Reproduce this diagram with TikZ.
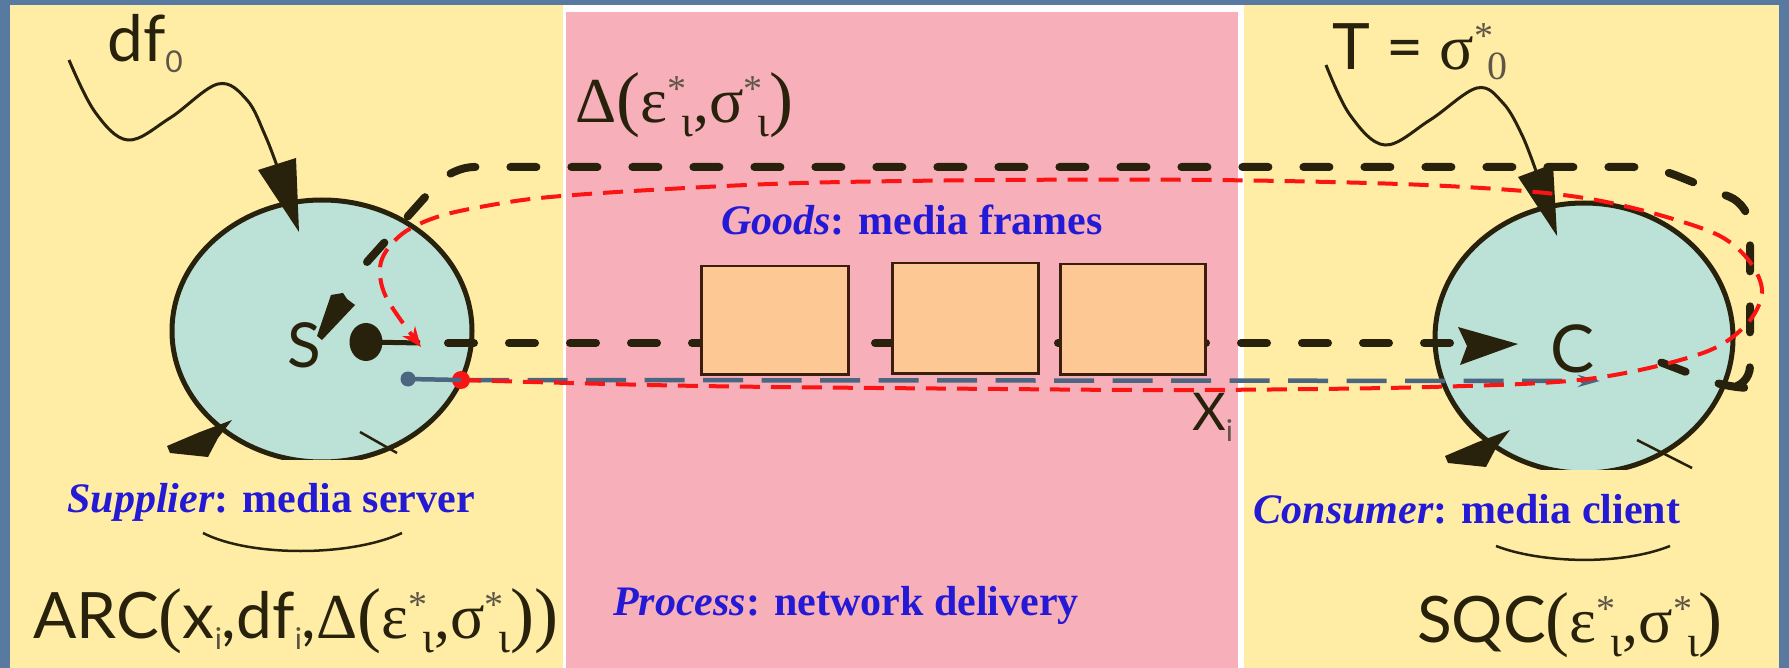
\documentclass[tikz,border=0pt]{standalone}
\usepackage{fontspec}
\setmainfont{Liberation Serif}
\newfontfamily\gsans{Lato}
\newfontfamily\gserif{Liberation Serif}
\usetikzlibrary{arrows.meta,shapes.geometric}
\definecolor{bgblue}{RGB}{88,122,160}
\definecolor{panelyellow}{RGB}{255,237,165}
\definecolor{panelpink}{RGB}{247,176,186}
\definecolor{tealfill}{RGB}{188,225,214}
\definecolor{darkline}{RGB}{40,34,12}
\definecolor{labelblue}{RGB}{36,26,214}
\definecolor{framefill}{RGB}{253,200,148}
\definecolor{framedraw}{RGB}{60,30,15}
\definecolor{redline}{RGB}{250,20,20}
\definecolor{slateline}{RGB}{74,102,128}
\definecolor{scriptgray}{RGB}{95,85,70}
\newcommand{\scr}{\fontsize{30}{30}\selectfont}
\newcommand{\lsub}[1]{\raisebox{-11pt}{\scr\color{scriptgray}#1}}
\newcommand{\gbig}{\fontsize{64}{70}\selectfont\gserif}
\newcommand{\pbig}{\fontsize{72}{76}\selectfont\gserif}
\newcommand{\supstar}{\makebox[13pt][l]{\raisebox{21pt}{\fontsize{38}{38}\selectfont\gserif\color{scriptgray}*}}}
\newcommand{\subiota}{\raisebox{-14pt}{\fontsize{44}{44}\selectfont\gserif ι}}
\newcommand{\starota}{\supstar\kern1pt\subiota}
\begin{document}
\begin{tikzpicture}[x=1pt,y=-1pt,
  agent/.style={ellipse, fill=tealfill, draw=darkline, line width=5pt, inner sep=0pt, outer sep=0pt},
  frame/.style={draw=framedraw, fill=framefill, line width=2.5pt},
  bluelabel/.style={text=labelblue, font=\fontsize{42}{48}\selectfont\bfseries, anchor=base, inner sep=0pt},
  mathlabel/.style={text=darkline, font=\fontsize{64}{70}\selectfont\gsans, anchor=base west, inner sep=0pt},
  letterlabel/.style={text=darkline, font=\fontsize{62}{66}\selectfont\gsans, anchor=base west, inner sep=0pt},
  bigdash/.style={draw=darkline, line width=8pt, line cap=round, dash pattern=on 26pt off 35pt},
  reddash/.style={draw=redline, line width=4pt, dash pattern=on 20pt off 11pt},
  slatedash/.style={draw=slateline, line width=4.5pt, dash pattern=on 40pt off 18.5pt},
  wave/.style={draw=darkline, line width=3pt},
  dotmark/.style={circle, inner sep=0pt, outer sep=0pt},
  brace/.style={draw=darkline, line width=2.5pt}
]
\useasboundingbox (0,0) rectangle (1789,668);
% panels
\fill[bgblue] (0,0) rectangle (1789,668);
\fill[panelyellow] (10,5) rectangle (1779,668);
\fill[white] (563,5) rectangle (1244,668);
\fill[panelpink] (566,12) rectangle (1238,668);

% supplier and consumer
\begin{scope}
\clip (0,0) rectangle (1789,459);
\node[agent, minimum width=300pt, minimum height=262pt] (S) at (322,331) {};
\end{scope}
\begin{scope}
\clip (0,0) rectangle (1789,469);
\node[agent, minimum width=298pt, minimum height=270pt] (C) at (1584,338) {};
\end{scope}

% marks at the bottom of the circles
\fill[darkline] (167,446) -- (200,432) -- (232,420) -- (218,438) -- (208,457) -- (170,453) -- cycle;
\draw[darkline, line width=2.5pt] (360,432) -- (397,453);
\fill[darkline] (1445,456) -- (1478,442) -- (1510,430) -- (1496,448) -- (1486,467) -- (1448,463) -- cycle;
\draw[darkline, line width=2.5pt] (1637,440) -- (1692,468);

% wavy incoming arrows
\coordinate (dfend) at (277,166);
\draw[wave] plot[smooth, tension=0.6] coordinates {(69,60) (95,112) (128,140) (170,118) (218,84) (247,100) (265,135) (dfend)};
\fill[darkline] (258,170) -- (296,158) -- (299,232) -- cycle;
\coordinate (tend) at (1536,171);
\draw[wave] plot[smooth, tension=0.6] coordinates {(1326,65) (1350,115) (1385,145) (1430,120) (1477,88) (1503,103) (1522,135) (tend)};
\fill[darkline] (1518,177) -- (1553,164) -- (1557,236) -- cycle;

% Delta boundary
\draw[bigdash, rounded corners=22pt] (367,262) -- (452,167) -- (1655,167) -- (1750,205) -- (1750,388) -- (1728,388) -- (1660,362);

% black flow S -> C
\node[ellipse, inner sep=0pt, fill=darkline, minimum width=33pt, minimum height=38pt] (blob) at (366,342) {};
\coordinate (sblack) at (420,343);
\coordinate (cblack) at (1462,343);
\draw[darkline, line width=5pt] (blob.center) -- (sblack);
\draw[bigdash] (448,343) -- (cblack);
\fill[darkline] (1458,327) -- (1518,344) -- (1460,365) -- (1467,346) -- cycle;

% feather near S
\fill[darkline] (331,295) -- (343,293) -- (347,299) -- (355,305) -- (322,340) -- (317,336) -- cycle;

% slate flow
\node[dotmark, fill=slateline, minimum size=15pt] (bdot) at (408,379) {};
\node[dotmark, fill=redline, minimum size=18pt] (rdot) at (461,380) {};
\coordinate (slateend) at (1600,381);
\draw[slateline, line width=4.5pt] (bdot.center) -- (rdot.center);
\draw[slatedash, -{Stealth[length=22pt, width=12pt]}] (469,380) -- (slateend);

% frames
\node[frame, minimum width=147pt, minimum height=108pt, anchor=north west] (f1) at (700,265) {};
\node[frame, minimum width=146pt, minimum height=110pt, anchor=north west] (f2) at (891,262) {};
\node[frame, minimum width=145pt, minimum height=110pt, anchor=north west] (f3) at (1059,263) {};

% red dashed loop
\coordinate (redtip) at (421,347);
\draw[reddash, -{Stealth[length=20pt, width=16pt]}] plot[smooth, tension=0.55] coordinates {(rdot.center) (700,386) (1000,389) (1200,390) (1430,387) (1588,379) (1700,354) (1745,326) (1762,293) (1750,262) (1720,236) (1663,216) (1596,200) (1524,191) (1400,184) (1213,180) (1000,180) (800,183) (650,190) (550,197) (497,204) (440,216) (402,234) (381,262) (386,297) (redtip)};

% letters
\node[letterlabel] (Slabel) at (287,367) {S};
\node[letterlabel, font=\fontsize{66}{70}\selectfont\gsans] (Clabel) at (1550,373) {C};

% math labels
\node[mathlabel] (dflabel) at (107,62) {df\lsub{0}};
\node[mathlabel] (tlabel) at (1332,70) {T = {\gbig σ}\supstar\raisebox{-10pt}{\fontsize{40}{40}\selectfont\gserif\color{scriptgray}0}};
\node[mathlabel] (dlabel) at (575,123) {{\gbig Δ}{\pbig (}{\gbig ε}\starota{\gbig ,σ}\starota{\pbig )}};
\node[mathlabel, font=\fontsize{52}{56}\selectfont\gsans] (xlabel) at (1192,430) {X\lsub{i}};
\node[mathlabel] (arc) at (33,638) {ARC{\pbig (}x\lsub{i},df\lsub{i},{\gbig Δ}{\pbig (}{\gbig ε}\starota{\gbig ,σ}\starota{\pbig ))}};
\node[mathlabel] (sqc) at (1417,642) {SQC{\pbig (}{\gbig ε}\starota{\gbig ,σ}\starota{\pbig )}};

% braces
\draw[brace] (203,533) .. controls (250,557) and (350,557) .. (402,533);
\draw[brace] (1496,546) .. controls (1540,563) and (1620,566) .. (1670,546);

% blue labels
\node[bluelabel] (goods) at (912,235) {\textit{Goods}: media frames};
\node[bluelabel] (supplier) at (271,512) {\textit{Supplier}: media server};
\node[bluelabel] (consumer) at (1467,523) {\textit{Consumer}: media client};
\node[bluelabel] (process) at (846,615) {\textit{Process}: network delivery};
\end{tikzpicture}
\end{document}
